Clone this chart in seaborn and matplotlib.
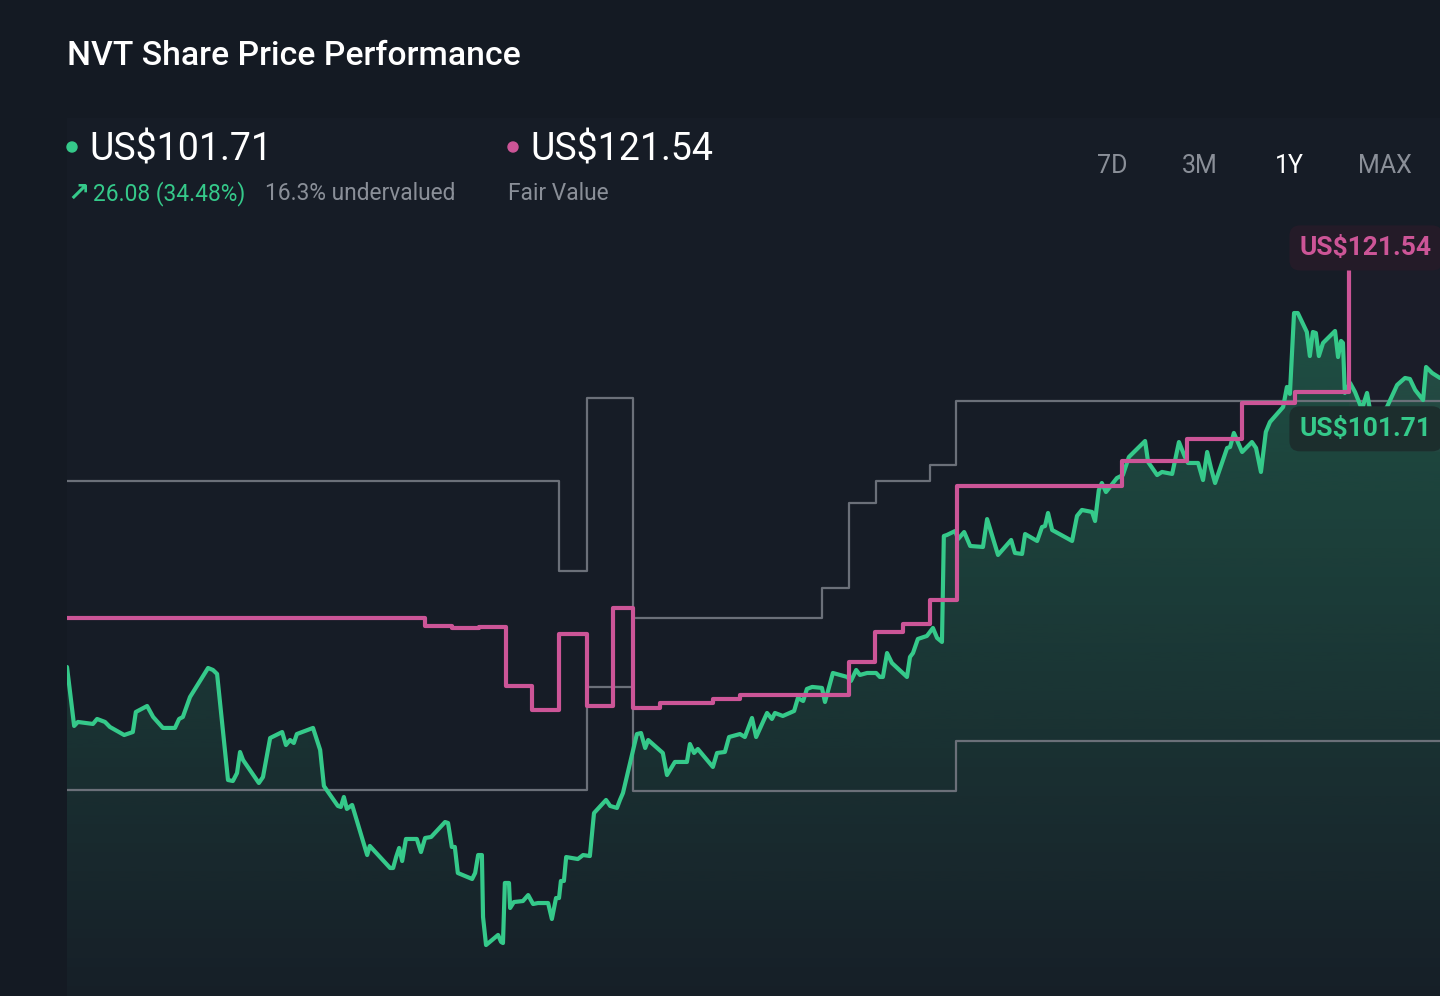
import numpy as np
import pandas as pd
import matplotlib
matplotlib.use('Agg')
import matplotlib.pyplot as plt
from matplotlib.colors import to_rgb
from matplotlib.patches import Ellipse
import seaborn as sns

# Precio de la acción (días desde el inicio del periodo de 1 año, US$)
price_days = [0, 1.9, 2.9, 6.9, 8.0, 10.1, 11.4, 15.2, 17.5, 18.3, 21.3, 22.9, 25.5, 28.7, 29.8,
              30.8, 32.7, 37.5, 38.8, 39.9, 42.8, 44.1, 45.2, 46.0, 46.8, 51.0, 52.1, 54.0, 57.2,
              58.2, 59.3, 60.3, 61.1, 65.4, 67.3, 68.3, 72.0, 72.8, 73.6, 74.4, 75.8, 79.8, 80.5,
              85.9, 86.7, 87.5, 88.3, 89.1, 90.1, 93.0, 94.1, 95.2, 96.8, 100.5, 101.3, 102.3,
              103.1, 103.9, 107.7, 108.5, 109.3, 110.3, 110.6, 111.4, 114.6, 115.4, 115.9, 116.4,
              117.5, 117.8, 118.8, 121.2, 122.6, 123.9, 125.2, 127.9, 128.9, 130.0, 130.8, 131.3,
              132.1, 132.7, 135.8, 137.2, 139.0, 140.1, 143.3, 144.4, 146.2, 147.0, 147.8, 151.5,
              152.6, 153.7, 154.5, 158.4, 159.5, 161.6, 164.8, 165.6, 166.7, 167.7, 171.7, 172.8,
              174.9, 176.0, 178.9, 180.2, 182.1, 183.2, 186.1, 187.4, 188.2, 190.3, 193.3, 194.3,
              195.7, 196.7, 198.1, 200.7, 201.5, 203.6, 207.4, 208.4, 209.8, 210.8, 212.7, 215.1,
              216.1, 216.9, 218.0, 219.3, 223.3, 224.1, 224.9, 226.2, 228.6, 230.2, 231.3, 232.6,
              233.1, 233.9, 236.1, 236.9, 238.5, 240.1, 243.5, 244.6, 247.5, 251.0, 252.0, 253.9,
              254.7, 257.9, 259.2, 260.0, 260.8, 261.9, 267.2, 268.5, 269.8, 272.5, 273.3, 274.3,
              275.1, 276.2, 279.1, 280.7, 282.3, 286.6, 287.4, 289.8, 291.1, 293.8, 295.6, 297.2,
              298.0, 300.7, 302.0, 303.1, 304.1, 305.2, 308.4, 309.2, 310.2, 312.4, 315.0, 316.1,
              317.4, 318.7, 319.8, 323.3, 324.3, 325.1, 326.2, 327.2, 329.6, 330.4, 331.2, 332.0,
              332.8, 333.9, 337.1, 337.9, 338.7, 339.2, 339.7, 341.1, 342.4, 344.0, 344.5, 345.6,
              346.4, 348.5, 350.9, 353.6, 355.7, 357.0, 358.4, 360.5, 361.3, 362.9, 365.0]
price_usd = [75.63, 70.31, 70.67, 70.49, 70.94, 70.67, 70.22, 69.49, 69.76, 71.57, 72.11, 71.12,
             70.13, 70.13, 70.94, 71.12, 72.92, 75.54, 75.36, 75.00, 65.43, 65.34, 66.06, 67.96,
             67.24, 65.16, 65.70, 69.22, 69.76, 68.59, 69.04, 68.77, 69.58, 70.13, 68.14, 64.89,
             63.09, 63.00, 63.90, 62.82, 63.18, 58.66, 59.48, 57.49, 57.49, 58.49, 59.30, 58.12,
             60.11, 60.11, 58.93, 60.20, 60.29, 61.64, 61.55, 59.39, 59.39, 57.04, 56.50, 57.04,
             58.66, 58.66, 53.07, 50.54, 51.45, 50.82, 50.72, 56.14, 56.14, 53.88, 54.42, 54.51,
             55.05, 54.24, 54.33, 54.33, 52.89, 54.78, 54.78, 56.32, 56.32, 58.48, 58.30, 58.66,
             58.57, 62.45, 63.63, 63.09, 62.91, 63.63, 64.26, 69.58, 69.67, 68.32, 69.04, 67.87,
             65.88, 67.06, 67.06, 68.68, 67.87, 68.23, 66.61, 67.87, 67.96, 69.31, 69.58, 69.31,
             71.03, 69.31, 71.48, 70.94, 71.48, 71.21, 71.66, 72.83, 72.56, 73.65, 73.83, 73.74,
             72.47, 75.09, 74.73, 74.37, 75.36, 74.91, 75.09, 75.09, 74.73, 74.73, 76.89, 75.99,
             74.73, 76.53, 76.89, 78.16, 78.43, 79.15, 78.25, 77.89, 87.45, 87.54, 87.90, 87.18,
             87.81, 86.55, 86.46, 88.98, 85.74, 87.09, 85.92, 85.83, 87.63, 87.00, 88.26, 88.35,
             89.53, 87.99, 87.00, 89.26, 89.80, 89.62, 88.80, 91.60, 92.23, 91.42, 92.68, 92.95,
             94.58, 96.02, 94.13, 92.95, 93.23, 93.05, 95.93, 94.58, 94.04, 94.04, 92.50, 95.03,
             93.60, 92.23, 95.39, 95.48, 96.75, 95.03, 95.93, 95.39, 93.23, 96.84, 97.74, 99.09,
             100.90, 100.27, 107.57, 107.57, 105.86, 103.69, 105.86, 105.77, 103.69, 104.87,
             105.95, 103.60, 105.05, 104.87, 100.36, 101.26, 100.45, 99.09, 99.18, 100.36, 98.82,
             98.10, 99.09, 101.08, 101.71, 101.62, 100.63, 99.72, 102.70, 102.16, 101.71]

# Valor justo (cambios semanales)
fair_days = [0, 95.2, 102.3, 109.5, 116.7, 123.6, 130.8, 138.2, 145.1, 150.5, 157.6, 171.7,
             178.9, 207.9, 214.8, 222.2, 229.4, 236.6, 280.5, 297.7, 312.4, 326.5, 340.8]
fair_usd = [80.05, 79.33, 79.15, 79.24, 73.91, 71.75, 78.61, 72.11, 80.95, 71.93, 72.38, 72.74,
            73.10, 76.08, 78.79, 79.51, 81.68, 91.96, 94.22, 96.21, 99.46, 100.45, 111.82]

# Objetivos de analistas: máximo y mínimo
high_days = [0, 130.8, 138.2, 150.5, 200.7, 207.9, 215.1, 229.4, 236.3]
high_usd = [92.41, 84.29, 99.91, 80.05, 82.76, 90.43, 92.41, 93.86, 99.63]
low_days = [0, 138.2, 150.5, 236.3]
low_usd = [64.53, 73.82, 64.44, 68.95]

period_days = 365
last_price = 101.71
fair_value = 121.54
change_abs = 26.08
change_pct = 34.48
undervalued_pct = 16.3
ranges = ['7D', '3M', '1Y', 'MAX']
active_range = '1Y'

# Colores
BG = '#141a23'
PANEL = '#161c26'
GREEN = '#35c98a'
PINK = '#cc5597'
GRAY = '#6b7079'
MUTED = '#8a8f98'

sns.set_theme(style='dark', rc={'figure.facecolor': BG, 'axes.facecolor': PANEL})
plt.rcParams['font.family'] = ['Roboto', 'DejaVu Sans']

fig = plt.figure(figsize=(14.4, 9.96), dpi=100)


def fx(px):
    return px / 1440


def fy(py):
    return 1 - py / 996


ax = fig.add_axes([fx(67), 0, 1 - fx(67), (996 - 118) / 996])
ax.set_facecolor(PANEL)

y_low, y_high = 45.94, 125.17

# Relleno degradado bajo el precio
poly = ax.fill_between(price_days, price_usd, y_low, color='none', lw=0)
path = poly.get_paths()[0]
alpha = np.linspace(0.30, 0.02, 256).reshape(-1, 1)
grad = np.zeros((256, 1, 4))
grad[..., :3] = to_rgb(GREEN)
grad[..., 3] = alpha
im = ax.imshow(grad, extent=[0, period_days, y_low, max(price_usd)], aspect='auto',
               origin='upper', zorder=1)
im.set_clip_path(path, transform=ax.transData)

# Zona resaltada a la derecha del último valor justo
ax.axvspan(fair_days[-1], period_days, ymin=0.62, ymax=0.83, color=PINK, alpha=0.03, lw=0)

df_high = pd.DataFrame({'day': high_days + [period_days], 'usd': high_usd + [high_usd[-1]]})
df_low = pd.DataFrame({'day': low_days + [period_days], 'usd': low_usd + [low_usd[-1]]})
df_fair = pd.DataFrame({'day': fair_days, 'usd': fair_usd})
df_price = pd.DataFrame({'day': price_days, 'usd': price_usd})

sns.lineplot(data=df_high, x='day', y='usd', ax=ax, color=GRAY, lw=1.6,
             drawstyle='steps-post', estimator=None, sort=False, zorder=2)
sns.lineplot(data=df_low, x='day', y='usd', ax=ax, color=GRAY, lw=1.6,
             drawstyle='steps-post', estimator=None, sort=False, zorder=2)
sns.lineplot(data=df_price, x='day', y='usd', ax=ax, color=GREEN, lw=3,
             estimator=None, sort=False, zorder=4)
sns.lineplot(data=df_fair, x='day', y='usd', ax=ax, color=PINK, lw=3,
             drawstyle='steps-post', estimator=None, sort=False, zorder=5)

ax.set_xlim(0, period_days)
ax.set_ylim(y_low, y_high)
ax.set_xticks([])
ax.set_yticks([])
ax.set_xlabel('')
ax.set_ylabel('')
sns.despine(ax=ax, left=True, bottom=True)

# Etiquetas de valor en el lado derecho
ax.text(0.898, 0.852, f'US${fair_value:.2f}', transform=ax.transAxes, color=PINK,
        fontsize=19, weight='bold', va='center', ha='left', zorder=7,
        bbox=dict(boxstyle='round,pad=0.4', fc='#241b28', ec='none'))
ax.text(0.898, 0.646, f'US${last_price:.2f}', transform=ax.transAxes, color=GREEN,
        fontsize=19, weight='bold', va='center', ha='left', zorder=7,
        bbox=dict(boxstyle='round,pad=0.4', fc='#1c2e2d', ec='none'))

# Cabecera
fig.text(fx(67), fy(56), 'NVT Share Price Performance', fontsize=24.3, color='white',
         weight='medium', va='center')

fig.add_artist(Ellipse((fx(72), fy(147)), 10 / 1440, 10 / 996, transform=fig.transFigure,
                       color=GREEN))
fig.add_artist(Ellipse((fx(513), fy(147)), 10 / 1440, 10 / 996, transform=fig.transFigure,
                       color=PINK))
fig.text(fx(89), fy(150), f'US${last_price:.2f}', fontsize=27, color='white', va='center')
fig.text(fx(530), fy(150), f'US${fair_value:.2f}', fontsize=27, color='white', va='center')

fig.text(fx(67), fy(194), '↗', fontsize=19, color=GREEN, va='center', weight='bold',
         family=['DejaVu Sans'])
fig.text(fx(93), fy(194), f'{change_abs:.2f} ({change_pct:.2f}%)', fontsize=16.4,
         color=GREEN, va='center')
fig.text(fx(265), fy(194), f'{undervalued_pct}% undervalued', fontsize=16.4,
         color=MUTED, va='center')
fig.text(fx(508), fy(194), 'Fair Value', fontsize=16.4, color=MUTED, va='center')

for label, cx in zip(ranges, [1112, 1200, 1289, 1385]):
    fig.text(fx(cx), fy(166), label, fontsize=18, ha='center', va='center',
             color='white' if label == active_range else MUTED)

plt.savefig('out.png', dpi=100, facecolor=BG)
